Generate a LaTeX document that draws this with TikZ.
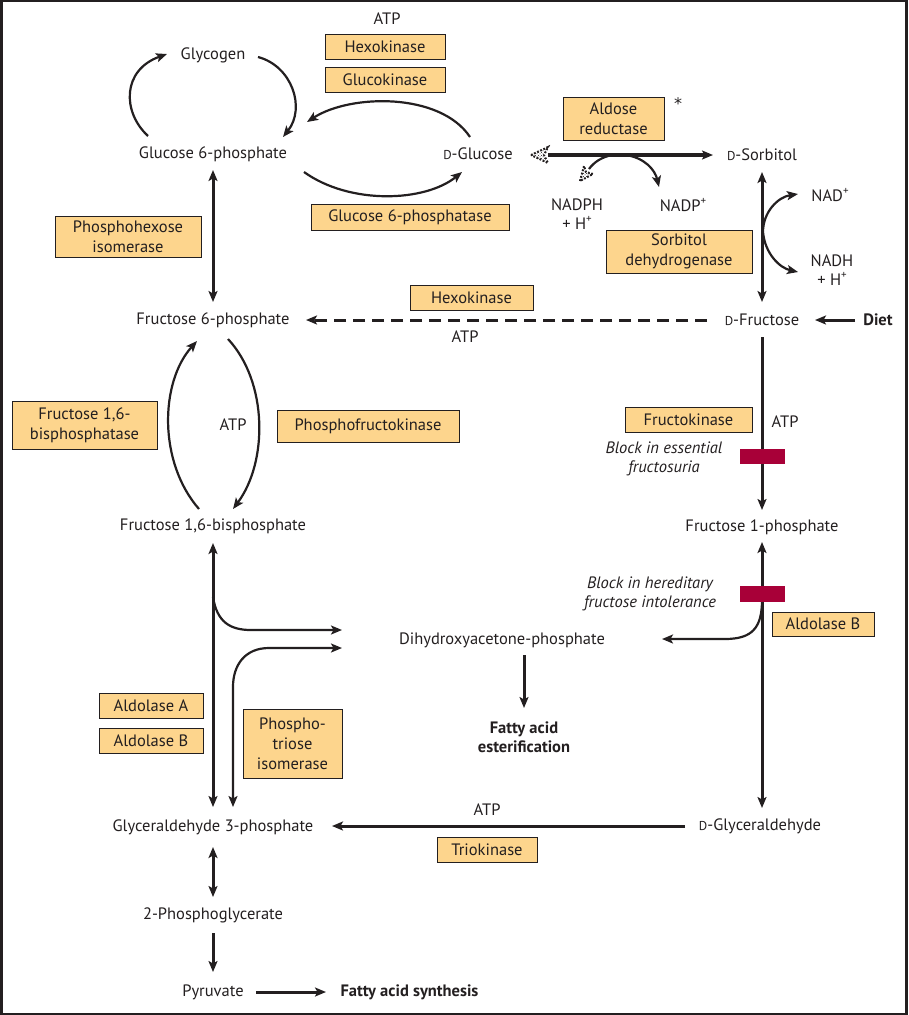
\documentclass[tikz,border=0pt]{standalone}
\usepackage{fontspec}
\setmainfont{PT Sans}
\newfontfamily\symfont{DejaVu Sans}
\usetikzlibrary{arrows.meta,patterns}
\definecolor{enzfill}{RGB}{253,213,141}
\definecolor{ink}{RGB}{35,31,32}
\definecolor{blockred}{RGB}{168,0,56}
\newcommand{\Dsc}{\scalebox{0.78}{D}}
\newcommand{\supplus}{\raisebox{0.45em}{\fontsize{11}{11}\selectfont +}}
\tikzset{
  lbl/.style={font=\fontsize{16.5}{19}\selectfont, text=ink, inner sep=0pt, align=center},
  enz/.style={draw=ink, line width=0.9pt, fill=enzfill, font=\fontsize{16.5}{20}\selectfont, text=ink, inner sep=0pt, align=center},
  bartag/.style={fill=blockred, inner sep=0pt, minimum width=45pt, minimum height=15pt},
  tip/.style={-{Stealth[length=11pt,width=9pt,inset=2.5pt]}},
  bitip/.style={{Stealth[length=11pt,width=9pt,inset=2.5pt]}-{Stealth[length=11pt,width=9pt,inset=2.5pt]}},
  main/.style={draw=ink, line width=3pt},
  curve/.style={draw=ink, line width=2.2pt},
  speckle/.style={pattern=crosshatch dots, pattern color=ink, draw=ink, line width=2pt, dash pattern=on 1.8pt off 1.6pt},
}
\begin{document}
\begin{tikzpicture}[x=1pt,y=-1pt]
\useasboundingbox (0,0) rectangle (908,1015);
\draw[ink, line width=2.5pt] (1.5,1.2) rectangle (906.5,1013.8);

% nodes
\node[lbl] (atp1) at (387,19) {ATP};
\node[enz, minimum width=120pt, minimum height=25pt] (hk1) at (385,46.5) {Hexokinase};
\node[enz, minimum width=120pt, minimum height=25pt] (gk) at (385,80) {Glucokinase};
\node[lbl] (glycogen) at (213,55) {Glycogen};
\node[lbl] (g6p) at (213,154) {Glucose 6-phosphate};
\node[lbl] (glc) at (478,154) {\Dsc-Glucose};
\node[enz, minimum width=101pt, minimum height=43pt] (ar) at (613.5,118.5) {Aldose\\reductase};
\node[lbl, font=\symfont\fontsize{16}{16}\selectfont] (ast) at (678,104) {*};
\node[lbl] (sorb) at (762,155) {\Dsc-Sorbitol};
\node[enz, minimum width=198pt, minimum height=26pt] (g6pase) at (410,217) {Glucose 6-phosphatase};
\node[lbl] (nadph) at (577,214.5) {NADPH\\+ H\supplus};
\node[lbl] (nadp) at (683,205) {NADP\supplus};
\node[lbl] (nad) at (830,195) {NAD\supplus};
\node[lbl] (nadh) at (832,270.5) {NADH\\+ H\supplus};
\node[enz, minimum width=146pt, minimum height=43pt] (sdh) at (679,251.5) {Sorbitol\\dehydrogenase};
\node[enz, minimum width=146pt, minimum height=41pt] (phi) at (128,236.5) {Phosphohexose\\isomerase};
\node[enz, minimum width=123pt, minimum height=25pt] (hk2) at (471.5,297.5) {Hexokinase};
\node[lbl] (f6p) at (213,320) {Fructose 6-phosphate};
\node[lbl] (atp2) at (465,337) {ATP};
\node[lbl] (fru) at (762,320) {\Dsc-Fructose};
\node[lbl, font=\fontsize{16.5}{19}\selectfont\bfseries] (diet) at (878,320) {Diet};
\node[enz, minimum width=145pt, minimum height=48pt] (fbpase) at (84.5,425) {Fructose 1,6-\\bisphosphatase};
\node[lbl] (atp3) at (233,425) {ATP};
\node[enz, minimum width=182pt, minimum height=32pt] (pfk) at (368,426) {Phosphofructokinase};
\node[lbl] (f16bp) at (213,526) {Fructose 1,6-bisphosphate};
\node[enz, minimum width=127pt, minimum height=25pt] (fk) at (688.5,419.5) {Fructokinase};
\node[lbl] (atp4) at (785,422) {ATP};
\node[lbl, font=\fontsize{16.5}{19}\selectfont\itshape] (blk1) at (664,458.5) {Block in essential\\fructosuria};
\node[lbl] (f1p) at (762,527) {Fructose 1-phosphate};
\node[lbl, font=\fontsize{16.5}{19}\selectfont\itshape] (blk2) at (650,593.5) {Block in hereditary\\fructose intolerance};
\node[enz, minimum width=102pt, minimum height=24pt] (aldb2) at (823,624) {Aldolase B};
\node[lbl] (dhap) at (502,640) {Dihydroxyacetone-phosphate};
\node[lbl, font=\fontsize{16.5}{19}\selectfont\bfseries] (fae) at (524,737.5) {Fatty acid\\esterification};
\node[enz, minimum width=104pt, minimum height=25pt] (alda) at (151,705.5) {Aldolase A};
\node[enz, minimum width=104pt, minimum height=25pt] (aldb1) at (151,741) {Aldolase B};
\node[enz, minimum width=99pt, minimum height=69pt] (tpi) at (292.5,743.5) {Phospho-\\triose\\isomerase};
\node[lbl] (gap) at (213,827) {Glyceraldehyde 3-phosphate};
\node[lbl] (glyald) at (760,826) {\Dsc-Glyceraldehyde};
\node[lbl] (atp5) at (487,810) {ATP};
\node[enz, minimum width=100pt, minimum height=25pt] (tk) at (487,849.5) {Triokinase};
\node[lbl] (pg2) at (213,915) {2-Phosphoglycerate};
\node[lbl] (pyr) at (213,992) {Pyruvate};
\node[lbl, font=\fontsize{16.5}{19}\selectfont\bfseries] (fas) at (409.5,992) {Fatty acid synthesis};

% glycogen cycle
\draw[curve, tip] (148,136) .. controls (122,112) and (122,70) .. (167,54);
\draw[curve, tip] (258,57) .. controls (292,66) and (306,108) .. (283,137);
% glucose <-> G6P
\draw[curve, tip] (470,137) .. controls (440,92) and (350,94) .. (307,122);
\draw[curve, tip] (304,172) .. controls (350,205) and (425,202) .. (462,172);
% G6P <-> F6P
\draw[main, bitip] (213,170) -- (213,302);
% aldose reductase
\draw[draw=ink, line width=3.6pt, tip] (548,155) -- (713,155);
\path[speckle] (531,155) -- (548,147) -- (544,155) -- (548,163) -- cycle;
\draw[curve] (612,155) .. controls (602,157) and (594,162) .. (589,169);
\path[speckle] (580,181) -- (584,166) -- (586,172) -- (593,174) -- cycle;
\draw[curve, tip] (626,155) .. controls (645,158) and (655,170) .. (659,187);
% sorbitol dehydrogenase
\draw[main, bitip] (762,172) -- (762,302);
\draw[curve, tip] (763,232) .. controls (763,212) and (778,197) .. (798,194);
\draw[curve, tip] (763,232) .. controls (765,254) and (780,268) .. (798,272);
% hexokinase dashed
\draw[main, dash pattern=on 12pt off 7pt, tip] (707,320) -- (306,320);
% diet
\draw[main, tip] (855,320) -- (815,320);
% F6P <-> F16BP
\draw[curve, tip] (199,509) .. controls (158,462) and (160,382) .. (197,341);
\draw[curve, tip] (228,339) .. controls (268,382) and (268,462) .. (233,509);
% fructokinase
\draw[main, tip] (762,337) -- (762,510);
\node[bartag] (bar1) at (762.5,456.5) {};
% aldolase B right
\draw[main, bitip] (762,542) -- (762,808);
\draw[curve, tip] (762,600) .. controls (762,628) and (752,639) .. (725,639) -- (662,639);
\node[bartag, minimum height=16pt] (bar2) at (762.5,594) {};
% aldolase left
\draw[main, bitip] (213,543) -- (213,807);
\draw[curve, tip] (213,597) .. controls (217,622) and (230,630) .. (251,630) -- (342,630);
\draw[curve, bitip] (342,648) -- (269,648) .. controls (245,648) and (233,665) .. (233,687) -- (233,807);
% DHAP -> esterification
\draw[main, tip] (524,655) -- (524,708);
% triokinase
\draw[main, tip] (685,826) -- (332,826);
% glycolysis
\draw[main, bitip] (213,847) -- (213,897);
\draw[main, tip] (213,933) -- (213,972);
\draw[main, tip] (256,992) -- (326,992);
\end{tikzpicture}
\end{document}
